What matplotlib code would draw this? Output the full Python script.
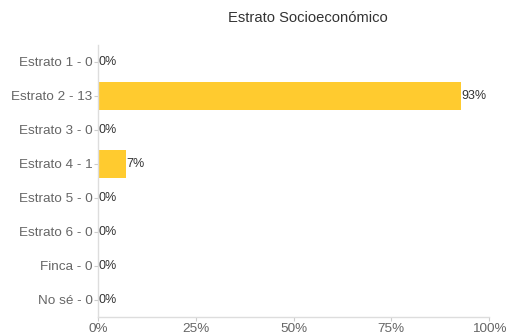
import numpy as np
import matplotlib.pyplot as plt

categories = ["Estrato 1", "Estrato 2", "Estrato 3", "Estrato 4",
              "Estrato 5", "Estrato 6", "Finca", "No sé"]
counts = [0, 13, 0, 1, 0, 0, 0, 0]
pct_labels = ["0%", "93%", "0%", "7%", "0%", "0%", "0%", "0%"]
xticks = [0, 25, 50, 75, 100]

plt.rcParams['font.family'] = ['Liberation Sans', 'DejaVu Sans']

fig = plt.figure(figsize=(5.07, 3.36), dpi=100)
ax = fig.add_axes([98 / 507, 1 - 317 / 336, (489 - 98) / 507, (317 - 45) / 336])

pct = np.array(counts) / sum(counts) * 100
y = np.arange(len(categories))
ax.barh(y, pct, height=0.85, color="#FFCB2F")

for yi, p, lab in zip(y, pct, pct_labels):
    ax.text(p + 0.2, yi, lab, va="center", ha="left", fontsize=9, color="#333333")

ax.set_yticks(y)
ax.set_yticklabels([f"{c} - {n}" for c, n in zip(categories, counts)])
ax.set_ylim(len(categories) - 0.5, -0.5)
ax.set_xlim(0, 100)
ax.set_xticks(xticks)
ax.set_xticklabels([f"{t}%" for t in xticks])

for s in ["top", "right"]:
    ax.spines[s].set_visible(False)
for s in ["left", "bottom"]:
    ax.spines[s].set_color("#dddddd")
    ax.spines[s].set_linewidth(1)
ax.tick_params(axis="both", colors="#cccccc", labelcolor="#666666",
               labelsize=9.7, length=3, width=0.8, pad=1)

fig.text(308 / 507, 1 - 18 / 336, "Estrato Socioeconómico", ha="center", va="center",
         fontsize=10.6, color="#333333")

fig.savefig("out.png", dpi=100)
